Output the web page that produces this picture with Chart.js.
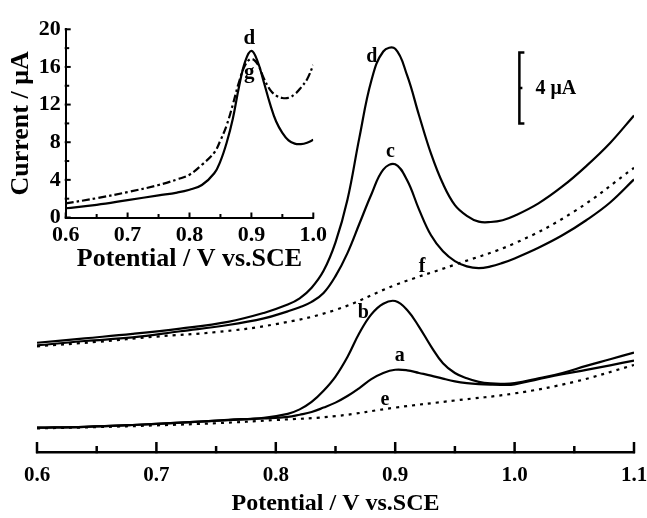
<!DOCTYPE html>
<html>
<head>
<meta charset="utf-8">
<script src="https://cdn.jsdelivr.net/npm/chart.js@4.4.1/dist/chart.umd.min.js"></script>
<style>
  body { margin: 0; background: #fff; }
  #wrap { position: relative; width: 647px; height: 518px; }
  #main, #inset { position: absolute; left: 0; top: 0; }
</style>
</head>
<body>
<div id="wrap">
  <canvas id="main" width="647" height="518"></canvas>
  <canvas id="inset" width="330" height="275"></canvas>
</div>
<script>
// main plot: potentials (V vs. SCE) for the peak curves a-d
const potPeak = [0.60, 0.64, 0.68, 0.72, 0.76, 0.79, 0.81, 0.82, 0.83, 0.84, 0.85, 0.86, 0.87,
  0.88, 0.89, 0.90, 0.91, 0.92, 0.93, 0.94, 0.95, 0.96, 0.97, 0.98, 0.99, 1.00, 1.02, 1.04, 1.06, 1.08, 1.10];
// currents (uA, curves are stacked, zero = bottom axis)
const curD = [6.15, 6.4, 6.65, 6.95, 7.33, 7.83, 8.3, 8.65, 9.25, 10.2, 11.8, 14.2, 17.7,
  20.9, 22.55, 22.7, 21.2, 18.95, 16.8, 15.1, 13.9, 13.3, 12.97, 12.95, 13.05, 13.3, 14.0, 14.95, 16.1, 17.4, 18.95];
const curC = [6.0, 6.25, 6.45, 6.8, 7.15, 7.52, 7.92, 8.15, 8.45, 8.95, 9.9, 11.2, 12.85,
  14.5, 15.9, 16.2, 15.3, 13.65, 12.2, 11.3, 10.75, 10.45, 10.35, 10.45, 10.65, 10.9, 11.5, 12.2, 13.05, 14.05, 15.35];
const curB = [1.37, 1.42, 1.52, 1.65, 1.81, 1.93, 2.15, 2.4, 2.82, 3.45, 4.25, 5.35, 6.7,
  7.75, 8.35, 8.5, 8.0, 7.05, 5.95, 5.0, 4.45, 4.15, 3.95, 3.86, 3.84, 3.88, 4.15, 4.45, 4.85, 5.22, 5.6];
const curA = [1.37, 1.42, 1.52, 1.65, 1.79, 1.89, 1.98, 2.1, 2.25, 2.5, 2.78, 3.15, 3.6,
  4.1, 4.45, 4.63, 4.6, 4.45, 4.3, 4.13, 3.98, 3.88, 3.82, 3.79, 3.78, 3.81, 4.1, 4.38, 4.62, 4.88, 5.15];

// main plot: dotted background curves e, f
const potBase = [0.60, 0.65, 0.70, 0.75, 0.80, 0.85, 0.90, 0.95, 1.00, 1.05, 1.10];
const curE = [1.33, 1.4, 1.5, 1.62, 1.8, 2.02, 2.5, 2.9, 3.3, 3.95, 4.9];
const curF = [5.95, 6.2, 6.5, 6.75, 7.2, 8.0, 9.4, 10.55, 11.75, 13.55, 16.0];

// inset: curves d and g
const potInset = [0.60, 0.65, 0.70, 0.75, 0.78, 0.80, 0.82, 0.84, 0.85, 0.86, 0.87, 0.88,
  0.89, 0.90, 0.91, 0.92, 0.93, 0.94, 0.95, 0.96, 0.97, 0.98, 0.99, 1.00];
const insetD = [0.98, 1.35, 1.85, 2.35, 2.65, 2.95, 3.45, 4.7, 6.0, 7.95, 10.5, 13.9,
  16.6, 17.7, 16.6, 14.4, 12.1, 10.2, 9.0, 8.2, 7.85, 7.8, 7.95, 8.25];
const insetG = [1.5, 2.05, 2.7, 3.45, 4.05, 4.55, 5.6, 6.9, 8.2, 9.8, 12.0, 14.4,
  16.2, 16.85, 16.3, 14.8, 13.6, 12.95, 12.7, 12.72, 13.1, 13.8, 14.7, 16.2];

const FONT = "'Liberation Serif', 'Times New Roman', serif";

// curve letters, placed in data coordinates
const mainTags = [
  { t: 'd', x: 0.8805, y: 22.26 },
  { t: 'c', x: 0.896, y: 16.9 },
  { t: 'f', x: 0.9226, y: 10.43 },
  { t: 'b', x: 0.8732, y: 7.81 },
  { t: 'a', x: 0.9039, y: 5.4 },
  { t: 'e', x: 0.8914, y: 2.95 }
];
const insetTags = [
  { t: 'd', x: 0.8966, y: 19.06 },
  { t: 'g', x: 0.8966, y: 15.4 }
];

function series(xs, ys, dash) {
  return {
    data: xs.map((x, i) => ({ x: x, y: ys[i] })),
    borderColor: '#000',
    borderWidth: 2.2,
    borderDash: dash,
    pointRadius: 0,
    tension: 0.4,
    fill: false
  };
}

// ticks drawn inward (major on scale ticks, minor half way)
function innerTicks(axisId, majorLen, minorLen, width) {
  return {
    id: 'ticks_' + axisId,
    afterDraw(chart) {
      const s = chart.scales[axisId];
      const ctx = chart.ctx;
      const vals = s.ticks.map(t => t.value);
      const marks = [];
      vals.forEach((v, i) => {
        marks.push([v, majorLen]);
        if (i < vals.length - 1) marks.push([(v + vals[i + 1]) / 2, minorLen]);
      });
      ctx.save();
      ctx.strokeStyle = '#000';
      ctx.lineWidth = width;
      marks.forEach(([v, len]) => {
        const p = s.getPixelForValue(v);
        ctx.beginPath();
        if (s.isHorizontal()) {
          ctx.moveTo(p, s.top + width / 2);
          ctx.lineTo(p, s.top - len);
        } else {
          ctx.moveTo(s.right - width / 2, p);
          ctx.lineTo(s.right + len, p);
        }
        ctx.stroke();
      });
      ctx.restore();
    }
  };
}

function tagPlugin(tags, size) {
  return {
    id: 'tags',
    afterDraw(chart) {
      const ctx = chart.ctx;
      ctx.save();
      ctx.fillStyle = '#000';
      ctx.font = 'bold ' + size + 'px ' + FONT;
      ctx.textAlign = 'center';
      ctx.textBaseline = 'middle';
      tags.forEach(g => {
        ctx.fillText(g.t, chart.scales.x.getPixelForValue(g.x), chart.scales.y.getPixelForValue(g.y));
      });
      ctx.restore();
    }
  };
}

// 4 uA scale bar
const scaleBar = {
  id: 'scaleBar',
  afterDraw(chart) {
    const ctx = chart.ctx;
    const x = chart.scales.x.getPixelForValue(1.004);
    const y1 = chart.scales.y.getPixelForValue(22.5);
    const y2 = chart.scales.y.getPixelForValue(18.5);
    const ym = (y1 + y2) / 2;
    ctx.save();
    ctx.strokeStyle = '#000';
    ctx.lineWidth = 2.5;
    ctx.beginPath();
    ctx.moveTo(x + 5, y1);
    ctx.lineTo(x, y1);
    ctx.lineTo(x, y2);
    ctx.lineTo(x + 5, y2);
    ctx.moveTo(x, ym);
    ctx.lineTo(x + 3, ym);
    ctx.stroke();
    ctx.fillStyle = '#000';
    ctx.font = 'bold 20px ' + FONT;
    ctx.textAlign = 'left';
    ctx.textBaseline = 'middle';
    ctx.fillText('4 \u03bcA', x + 16, ym + 1);
    ctx.restore();
  }
};

new Chart(document.getElementById('main'), {
  type: 'line',
  data: {
    datasets: [
      series(potPeak, curD, []),
      series(potPeak, curC, []),
      series(potBase, curF, [3, 5]),
      series(potPeak, curB, []),
      series(potPeak, curA, []),
      series(potBase, curE, [3, 5])
    ]
  },
  options: {
    responsive: false,
    animation: false,
    devicePixelRatio: 1,
    layout: { padding: { left: 37, right: 13, top: 8, bottom: 0 } },
    plugins: { legend: { display: false }, tooltip: { enabled: false } },
    scales: {
      x: {
        type: 'linear',
        position: 'bottom',
        min: 0.6,
        max: 1.1,
        afterFit: s => { s.height = 66; s.paddingLeft = 0; s.paddingRight = 0; },
        grid: { display: false, drawTicks: false },
        border: { display: true, color: '#000', width: 2.5 },
        ticks: {
          stepSize: 0.1,
          padding: 11,
          color: '#000',
          maxRotation: 0,
          autoSkip: false,
          font: { family: FONT, size: 21, weight: 'bold' },
          callback: v => v.toFixed(1)
        },
        title: {
          display: true,
          text: 'Potential / V vs.SCE',
          color: '#000',
          font: { family: FONT, size: 24, weight: 'bold' },
          padding: { top: 0, bottom: 0 }
        }
      },
      y: { display: false, min: 0, max: 25 }
    }
  },
  plugins: [innerTicks('x', 10, 6, 2.5), tagPlugin(mainTags, 20), scaleBar]
});

new Chart(document.getElementById('inset'), {
  type: 'line',
  data: {
    datasets: [
      series(potInset, insetD, []),
      series(potInset, insetG, [8, 3, 2.5, 3])
    ]
  },
  options: {
    responsive: false,
    animation: false,
    devicePixelRatio: 1,
    layout: { padding: { left: 0, right: 16.7, top: 29.3, bottom: 0 } },
    plugins: { legend: { display: false }, tooltip: { enabled: false } },
    scales: {
      x: {
        type: 'linear',
        min: 0.6,
        max: 1.0,
        afterFit: s => { s.height = 57.5; s.paddingLeft = 0; s.paddingRight = 0; },
        grid: { display: false, drawTicks: false },
        border: { display: true, color: '#000', width: 2 },
        ticks: {
          stepSize: 0.1,
          padding: 5,
          color: '#000',
          maxRotation: 0,
          autoSkip: false,
          font: { family: FONT, size: 22, weight: 'bold' },
          callback: v => v.toFixed(1)
        },
        title: {
          display: true,
          text: 'Potential / V vs.SCE',
          color: '#000',
          font: { family: FONT, size: 26, weight: 'bold' },
          padding: { top: 0, bottom: 0 }
        }
      },
      y: {
        min: 0,
        max: 20,
        afterFit: s => { s.width = 65.7; },
        grid: { display: false, drawTicks: false },
        border: { display: true, color: '#000', width: 2 },
        ticks: {
          stepSize: 4,
          padding: 5,
          color: '#000',
          font: { family: FONT, size: 22, weight: 'bold' }
        },
        title: {
          display: true,
          text: 'Current / \u03bcA',
          color: '#000',
          font: { family: FONT, size: 26, weight: 'bold' },
          padding: { top: 6, bottom: 0 }
        }
      }
    }
  },
  plugins: [innerTicks('x', 5, 3.5, 2), innerTicks('y', 5, 3.5, 2), tagPlugin(insetTags, 21)]
});
</script>
</body>
</html>
